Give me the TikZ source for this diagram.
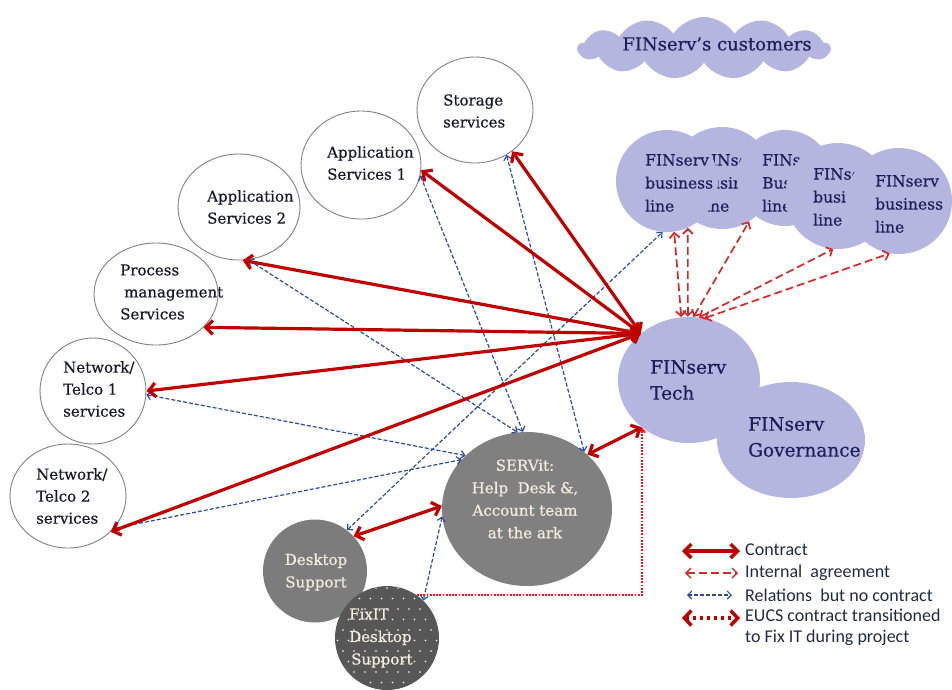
\documentclass[tikz,border=0pt]{standalone}
\usepackage{fontspec}
\setmainfont{DejaVu Serif}[FakeBold=0.5]
\newfontfamily\legendfont{Carlito}
\usetikzlibrary{arrows.meta,shapes.geometric,shapes.symbols}

\definecolor{lav}{HTML}{B4B6E0}
\definecolor{svcline}{HTML}{808080}
\definecolor{svcink}{HTML}{18182A}
\definecolor{navy}{HTML}{1E1E5A}
\definecolor{cream}{HTML}{F3EDE0}
\definecolor{greyA}{HTML}{808080}
\definecolor{greyB}{HTML}{7C7C7C}
\definecolor{greyC}{HTML}{575757}
\definecolor{cred}{HTML}{C00000}
\definecolor{ired}{HTML}{D42828}
\definecolor{rblue}{HTML}{2E4A9E}
\definecolor{dred}{HTML}{FF1010}
\definecolor{legink}{HTML}{1F2A44}

\tikzset{
  svc/.style={ellipse, draw=svcline, line width=0.9pt, fill=white, inner sep=0pt},
  svctext/.style={font=\fontsize{15}{22}\selectfont, text=svcink, align=left, inner sep=0pt, anchor=west},
  lavnode/.style={ellipse, fill=lav, inner sep=0pt},
  lavtext/.style={font=\fontsize{18.5}{26}\selectfont, text=navy, align=left, inner sep=0pt, anchor=west},
  bub/.style={circle, fill=lav, inner sep=0pt},
  bubtext/.style={font=\fontsize{15.5}{23}\selectfont, text=navy, align=left, inner sep=0pt, anchor=west},
  greynode/.style={ellipse, inner sep=0pt},
  greytext/.style={font=\fontsize{15}{22.5}\selectfont, text=cream, inner sep=0pt},
  contract/.style={draw=cred, line width=3.2pt,
    {Straight Barb[length=7pt,width=14pt]}-{Straight Barb[length=7pt,width=14pt]}},
  internal/.style={draw=ired, line width=1.7pt, dash pattern=on 8pt off 4pt,
    {Straight Barb[length=5pt,width=10pt]}-{Straight Barb[length=5pt,width=10pt]}},
  relation/.style={draw=rblue, line width=1.2pt, dash pattern=on 4pt off 2pt,
    {Straight Barb[length=4pt,width=8pt]}-{Straight Barb[length=4pt,width=8pt]}},
  eucs/.style={draw=dred, line width=1.8pt, dash pattern=on 1.8pt off 1.4pt,
    -{Straight Barb[length=4pt,width=7pt]}},
  eucslegend/.style={draw=cred, line width=3.5pt, dash pattern=on 3pt off 4pt,
    {Straight Barb[length=7pt,width=15pt]}-{Straight Barb[length=7pt,width=15pt]}},
  legtext/.style={font=\legendfont\fontsize{18}{21}\selectfont, text=legink, align=left, inner sep=0pt, anchor=west},
}

\begin{document}
\begin{tikzpicture}[x=1pt,y=-1pt]
\useasboundingbox (0,0) rectangle (952,689);
\clip (0,0) rectangle (952,689);

% customers cloud
\node[cloud, cloud puffs=13, cloud puff arc=115, aspect=4, fill=lav, inner sep=0pt,
      minimum width=252pt, minimum height=62pt] (cust) at (704,48) {};
\node[font=\fontsize{18}{22}\selectfont, text=navy, inner sep=0pt] (cust-t) at (717,44) {FINserv’s customers};

% business lines (overlapping bubbles)
\node[bub, minimum size=102pt] (b2) at (722,178) {};
\node[bubtext] (b2-t) at (700,183) {FINserv\\business\\line};
\node[bub, minimum size=102pt] (b1) at (667,181) {};
\node[bubtext] (b1-t) at (645,183) {FINserv\\business\\line};
\node[bub, minimum size=96pt] (b3) at (785,178) {};
\node[bubtext] (b3-t) at (762,183) {FINserv\\Business\\line};
\node[bub, minimum size=106pt] (b4) at (838,196) {};
\node[bubtext] (b4-t) at (813,197) {FINserv\\business\\line};
\node[bub, minimum size=106pt] (b5) at (899,201) {};
\node[bubtext] (b5-t) at (875,204) {FINserv\\business\\line};

% FINserv Tech and Governance
\node[lavnode, minimum width=142pt, minimum height=126pt] (tech) at (689,380) {};
\node[lavnode, minimum width=148pt, minimum height=116pt] (gov) at (791,440) {};
\node[lavtext] (tech-t) at (650,380) {FINserv\\Tech};
\node[lavtext] (gov-t) at (748,437) {FINserv\\Governance};

% service providers
\node[svc, minimum width=116pt, minimum height=106pt] (stor) at (475,110) {};
\node[svctext] (stor-t) at (443,111) {Storage\\services};
\node[svc, minimum width=120pt, minimum height=108pt] (app1) at (361,165) {};
\node[svctext] (app1-t) at (327,163) {Application\\Services 1};
\node[svc, minimum width=122pt, minimum height=106pt] (app2) at (239,207) {};
\node[svctext] (app2-t) at (207,207) {Application\\Services 2};
\node[svc, minimum width=124pt, minimum height=102pt] (proc) at (156,294) {};
\node[svctext] (proc-t) at (120,292) {Process\\\hspace{4pt}management\\Services};
\node[svc, minimum width=106pt, minimum height=106pt] (tel1) at (93,391) {};
\node[svctext] (tel1-t) at (63,389) {Network/\\Telco 1\\services};
\node[svc, minimum width=116pt, minimum height=104pt] (tel2) at (68,496) {};
\node[svctext] (tel2-t) at (36,496) {Network/\\Telco 2\\services};

% help desk and desktop support
\node[greynode, fill=greyA, minimum width=170pt, minimum height=154pt] (serv) at (527,509) {};
\node[greytext, align=center] (serv-t) at (525,499) {SERVit:\\Help\ \ Desk \&,\\Account team\\at the ark};
\node[greynode, fill=greyB, minimum width=104pt, minimum height=103pt] (desk) at (315,571) {};
\node[greytext, align=center] (desk-t) at (316,572) {Desktop\\Support};
\node[greynode, fill=greyC, minimum width=104pt, minimum height=104pt] (fix) at (387,638) {};
\begin{scope}
  \clip (387,638) circle [radius=51.5pt];
  \foreach \r in {0,...,10}
    \foreach \c in {0,...,10}
      \fill[white] ({332+\c*11+mod(\r,2)*5.5},{588+\r*10.5}) circle [radius=0.9pt];
\end{scope}
\node[greytext, align=left, anchor=west] (fix-t) at (349,638) {FixIT\\Desktop\\\hspace{2pt}Support};

% relations without contract
\draw[relation] (app1.-10) -- (serv.93);
\draw[relation] (app2.-80) -- (serv.97);
\draw[relation] (stor.-55) -- (serv.45);
\draw[relation] (tel1.-4) -- (serv.139);
\draw[relation] (tel2.-35) -- (serv.143);
\draw[relation] (desk.52) -- (b1.-95);
\draw[relation] (serv.185) -- (fix.46);

% internal agreements
\draw[internal] (tech.97) -- (b1.-82);
\draw[internal] (tech.91) -- (b1.-66);
\draw[internal] (tech.86) -- (b2.-58);
\draw[internal] (tech.81) -- (b4.-95);
\draw[internal] (tech.76) -- (b5.-100);

% EUCS contract transition
\draw[eucs] (fix.55) -| (tech.-135);

% contracts
\draw[contract] (stor.-48) -- (tech.136);
\draw[contract] (app1.-5) -- (tech.136);
\draw[contract] (app2.-86) -- (tech.136);
\draw[contract] (proc.-35) -- (tech.136);
\draw[contract] (tel1.0) -- (tech.136);
\draw[contract] (tel2.-40) -- (tech.136);
\draw[contract] (serv.42) -- (tech.-135);
\draw[contract] (desk.42) -- (serv.178);

% legend
\coordinate (lg1a) at (682,551); \coordinate (lg1b) at (740,551);
\coordinate (lg2a) at (685,573); \coordinate (lg2b) at (738,573);
\coordinate (lg3a) at (687,595); \coordinate (lg3b) at (732,595);
\coordinate (lg4a) at (682,618); \coordinate (lg4b) at (740,618);
\draw[contract, line width=3.5pt] (lg1a) -- (lg1b);
\draw[internal, line width=1.4pt] (lg2a) -- (lg2b);
\draw[relation] (lg3a) -- (lg3b);
\draw[eucslegend] (lg4a) -- (lg4b);
\node[legtext] (lgt1) at (745,550) {Contract};
\node[legtext] (lgt2) at (745,573) {Internal\ \ agreement};
\node[legtext] (lgt3) at (745,595) {Relations\ \ but no contract};
\node[legtext] (lgt4) at (745,627) {EUCS contract transitioned\\to Fix IT during project};
\end{tikzpicture}
\end{document}
